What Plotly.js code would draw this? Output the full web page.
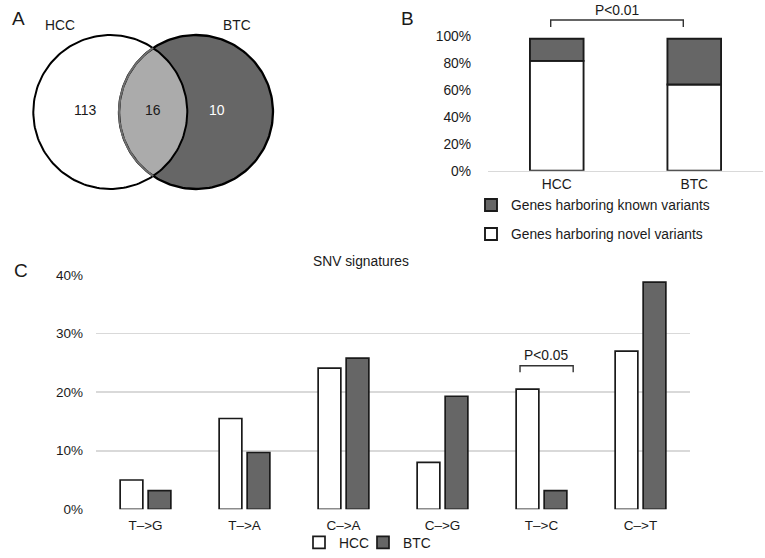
<!DOCTYPE html>
<html><head><meta charset="utf-8">
<script src="https://cdn.plot.ly/plotly-3.0.1.min.js"></script>
<style>html,body{margin:0;padding:0;background:#fff}#chart{width:765px;height:558px}</style>
</head><body><div id="chart"></div>
<script>
// ---------- Panel A: Venn diagram ----------
const vennSets = ['HCC', 'BTC'];
const vennCounts = [113, 16, 10]; // HCC only, shared, BTC only

// ---------- Panel B: stacked 100% bars ----------
const bCategories = ['HCC', 'BTC'];
const bNovel = [81.5, 64.0];
const bKnown = [16.5, 34.0];
const bSeriesNames = ['Genes harboring novel variants', 'Genes harboring known variants'];
const bTickVals = [0, 20, 40, 60, 80, 100];
const bTickText = ['0%', '20%', '40%', '60%', '80%', '100%'];
const bPText = 'P<0.01';

// ---------- Panel C: SNV signatures ----------
const cCategories = ['T–>G', 'T–>A', 'C–>A', 'C–>G', 'T–>C', 'C–>T'];
const cHCC = [5.0, 15.5, 24.1, 8.0, 20.5, 27.0];
const cBTC = [3.2, 9.7, 25.8, 19.3, 3.2, 38.8];
const cSeriesNames = ['HCC', 'BTC'];
const cTickVals = [0, 10, 20, 30, 40];
const cTickText = ['0%', '10%', '20%', '30%', '40%'];
const cTitle = 'SNV signatures';
const cPText = 'P<0.05';

// ---------- styling / geometry ----------
const FONT = 'Liberation Sans, Arial, Helvetica, sans-serif';
const TXT = '#1a1a1a';
const DARK = '#666666';
const LIGHT = '#ababab';
const GRID = '#d9d9d9';

// Venn circle geometry (pixel space of the hidden full-page axes)
const R = 77, CY = 112, CX1 = 110.3, CX2 = 196;

function arc(cx, cy, r, a0, a1, n) {
  const xs = [], ys = [];
  for (let i = 0; i <= n; i++) {
    const a = (a0 + (a1 - a0) * i / n) * Math.PI / 180;
    xs.push(cx + r * Math.cos(a));
    ys.push(cy + r * Math.sin(a));
  }
  return {x: xs, y: ys};
}
const d = CX2 - CX1;
const halfA = Math.acos((d / 2) / R) * 180 / Math.PI;
const hccFull = arc(CX1, CY, R, 0, 360, 180);
const btcFull = arc(CX2, CY, R, 0, 360, 180);
const btcLeft = arc(CX2, CY, R, 180 - halfA, 180 + halfA, 80);
const hccRight = arc(CX1, CY, R, -halfA, halfA, 80);
const lens = {x: btcLeft.x.concat(hccRight.x), y: btcLeft.y.concat(hccRight.y)};

const vennBase = {xaxis: 'x3', yaxis: 'y3', type: 'scatter', mode: 'lines', hoverinfo: 'skip', showlegend: false};
const traces = [
  Object.assign({}, vennBase, {x: hccFull.x, y: hccFull.y, fill: 'toself', fillcolor: '#ffffff', line: {width: 0, color: 'rgba(0,0,0,0)'}}),
  Object.assign({}, vennBase, {x: btcFull.x, y: btcFull.y, fill: 'toself', fillcolor: DARK, line: {width: 0, color: 'rgba(0,0,0,0)'}}),
  Object.assign({}, vennBase, {x: lens.x, y: lens.y, fill: 'toself', fillcolor: LIGHT, line: {width: 0, color: 'rgba(0,0,0,0)'}}),
  Object.assign({}, vennBase, {x: hccFull.x, y: hccFull.y, line: {width: 2, color: '#000'}}),
  Object.assign({}, vennBase, {x: btcFull.x, y: btcFull.y, line: {width: 2.3, color: '#000'}}),
  Object.assign({}, vennBase, {x: btcLeft.x, y: btcLeft.y, line: {width: 2, color: '#6e6e6e'}}),

  // Panel B
  {type: 'bar', x: bCategories, y: bNovel, name: bSeriesNames[0], xaxis: 'x2', yaxis: 'y2',
   offsetgroup: 'b', width: 0.39, legend: 'legend4',
   marker: {color: '#ffffff', line: {color: '#1a1a1a', width: 1.9}}, hoverinfo: 'skip'},
  {type: 'bar', x: bCategories, y: bKnown, base: bNovel, name: bSeriesNames[1], xaxis: 'x2', yaxis: 'y2',
   offsetgroup: 'b', width: 0.39, legend: 'legend3',
   marker: {color: DARK, line: {color: '#1a1a1a', width: 1.9}}, hoverinfo: 'skip'},

  // Panel C
  {type: 'bar', x: cCategories, y: cHCC, name: cSeriesNames[0], xaxis: 'x', yaxis: 'y', legend: 'legend',
   marker: {color: '#ffffff', line: {color: '#1a1a1a', width: 1.7}}, hoverinfo: 'skip'},
  {type: 'bar', x: cCategories, y: cBTC, name: cSeriesNames[1], xaxis: 'x', yaxis: 'y', legend: 'legend2',
   marker: {color: DARK, line: {color: '#1a1a1a', width: 1.7}}, hoverinfo: 'skip'}
];

const px = (x, y, text, size, color, extra) => Object.assign({
  xref: 'x3', yref: 'y3', x: x, y: y, text: text, showarrow: false,
  xanchor: 'center', yanchor: 'middle', font: {family: FONT, size: size, color: color || TXT}
}, extra || {});

const leg = (xPix, yPix, anchor) => ({
  x: xPix / 765, y: anchor === 'bottom' ? 0 : 1 - yPix / 558, xanchor: 'left', yanchor: anchor || 'middle',
  orientation: 'h', bgcolor: 'rgba(0,0,0,0)', font: {family: FONT, size: 13.8, color: TXT}, itemwidth: 30
});

const layout = {
  width: 765, height: 558,
  margin: {l: 0, r: 0, t: 0, b: 0, pad: 0},
  paper_bgcolor: '#ffffff', plot_bgcolor: 'rgba(0,0,0,0)',
  font: {family: FONT, size: 13.5, color: TXT},
  barmode: 'group', bargap: 0.434, bargroupgap: 0.19,
  showlegend: true,
  // Panel C axes
  xaxis: {domain: [96 / 765, 690 / 765], anchor: 'y', type: 'category', showline: false, showgrid: false,
          zeroline: false, ticks: '', tickfont: {size: 13.5, color: TXT}, ticklabelstandoff: 6, fixedrange: true},
  yaxis: {domain: [1 - 509.3 / 558, 1 - 275 / 558], anchor: 'x', range: [0, 40], tickvals: cTickVals, ticktext: cTickText,
          showgrid: true, gridcolor: GRID, gridwidth: 1.6, zeroline: false, showline: false, ticks: '',
          tickfont: {size: 13.5, color: TXT}, ticklabelstandoff: 12, fixedrange: true},
  // Panel B axes
  xaxis2: {domain: [488 / 765, 763 / 765], anchor: 'y2', type: 'category', showline: true, linecolor: GRID, linewidth: 1.6,
           showgrid: false, zeroline: false, ticks: '', tickfont: {size: 13.8, color: TXT}, fixedrange: true},
  yaxis2: {domain: [1 - 170.7 / 558, 1 - 36 / 558], anchor: 'x2', range: [0, 100], tickvals: bTickVals, ticktext: bTickText,
           showgrid: false, zeroline: false, showline: false, ticks: '', tickfont: {size: 13.8, color: TXT},
           ticklabelstandoff: 16, fixedrange: true},
  // Hidden full-page pixel axes (Venn + labels)
  xaxis3: {domain: [0, 1], anchor: 'y3', range: [0, 765], visible: false, fixedrange: true},
  yaxis3: {domain: [0, 1], anchor: 'x3', range: [558, 0], visible: false, fixedrange: true},
  legend: leg(299, 0, 'bottom'),
  legend2: leg(363, 0, 'bottom'),
  legend3: leg(471, 205),
  legend4: leg(471, 234),
  shapes: [
    {type: 'path', xref: 'x3', yref: 'y3', path: 'M550.7,27 V20 H683.3 V27', line: {color: '#333', width: 1.4}},
    {type: 'path', xref: 'x', yref: 'y', path: 'M3.783,23.4 V24.5 H4.32 V23.4', line: {color: '#333', width: 1.4}}
  ],
  annotations: [
    px(18, 18, 'A', 19),
    px(407, 18, 'B', 19),
    px(20.7, 270.5, 'C', 19),
    px(60, 25, vennSets[0], 13.8),
    px(236.7, 25, vennSets[1], 13.8),
    px(85, 110, String(vennCounts[0]), 14),
    px(152.5, 110, String(vennCounts[1]), 14),
    px(216.7, 110, String(vennCounts[2]), 14, '#ffffff'),
    px(617, 10, bPText, 13.8),
    px(360.8, 261, cTitle, 13.8),
    {xref: 'x', yref: 'y', x: 4.05, y: 26.3, text: cPText, showarrow: false, xanchor: 'center', yanchor: 'middle',
     font: {family: FONT, size: 13.8, color: TXT}}
  ]
};

Plotly.newPlot('chart', traces, layout, {staticPlot: true, displayModeBar: false});
</script>
</body></html>
